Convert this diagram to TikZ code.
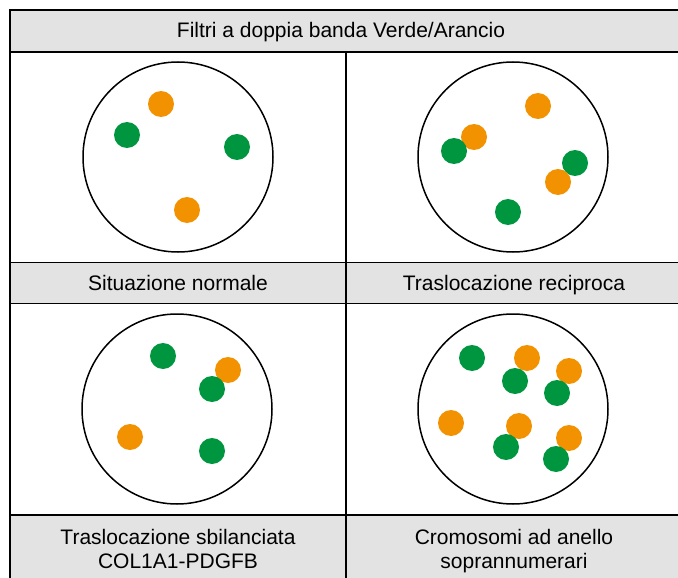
\documentclass[tikz,border=0pt]{standalone}
\usepackage{fontspec}
\setmainfont{Liberation Sans}
\usetikzlibrary{positioning}
\definecolor{cellgrey}{RGB}{227,227,227}
\definecolor{fishorange}{RGB}{243,146,0}
\definecolor{fishgreen}{RGB}{0,150,64}

\begin{document}
\begin{tikzpicture}[
    x=1pt, y=-1pt,
    cell/.style={fill=cellgrey},
    rule/.style={line width=1.8pt},
    thinrule/.style={line width=1pt},
    nucleus/.style={draw, line width=1.5pt},
    caption/.style={font=\fontsize{21}{24}\selectfont, align=center, inner sep=0pt, anchor=base}
]
\clip (0,0) rectangle (678,578);

% Grey rows
\fill[cell] (10,10) rectangle (690,52);
\fill[cell] (10,262) rectangle (690,303);
\fill[cell] (10,515) rectangle (690,590);

% Table rules
\draw[rule] (690,10) -- (10,10) -- (10,590);
\draw[rule] (10,52) -- (690,52);
\draw[thinrule] (10,262) -- (690,262);
\draw[thinrule] (10,303) -- (690,303);
\draw[rule] (10,515) -- (690,515);
\draw[rule] (346,52) -- (346,590);

% Texts
\node[caption] (title) at (341,38) {Filtri a doppia banda Verde/Arancio};
\node[caption] (normal) at (178,290) {Situazione normale};
\node[caption] (recip) at (514,290) {Traslocazione reciproca};
\node[caption] (unbal) at (178,568) {Traslocazione sbilanciata\\COL1A1-PDGFB};
\node[caption] (ring) at (514,568) {Cromosomi ad anello\\soprannumerari};

% Nuclei
\draw[nucleus] (178,157) circle (95pt);
\draw[nucleus] (513,157) circle (95pt);
\draw[nucleus] (177,409) circle (95pt);
\draw[nucleus] (513,409) circle (95pt);

% Signals - normal
\foreach \x/\y/\c in {161/104/fishorange, 187/210/fishorange, 127/135/fishgreen, 237/147/fishgreen}
    \fill[\c] (\x,\y) circle (13pt);

% Signals - reciprocal
\foreach \x/\y/\c in {538/106/fishorange, 474/137/fishorange, 454/151/fishgreen,
    575/163/fishgreen, 558/182/fishorange, 508/212/fishgreen}
    \fill[\c] (\x,\y) circle (13pt);

% Signals - unbalanced
\foreach \x/\y/\c in {163/356/fishgreen, 228/370/fishorange, 212/389/fishgreen,
    130/437/fishorange, 212/451/fishgreen}
    \fill[\c] (\x,\y) circle (13pt);

% Signals - ring
\foreach \x/\y/\c in {527/358/fishorange, 569/371/fishorange, 451/423/fishorange,
    519/426/fishorange, 569/438/fishorange, 472/358/fishgreen, 515/381/fishgreen,
    557/393/fishgreen, 506/447/fishgreen, 556/459/fishgreen}
    \fill[\c] (\x,\y) circle (13pt);

\end{tikzpicture}
\end{document}
